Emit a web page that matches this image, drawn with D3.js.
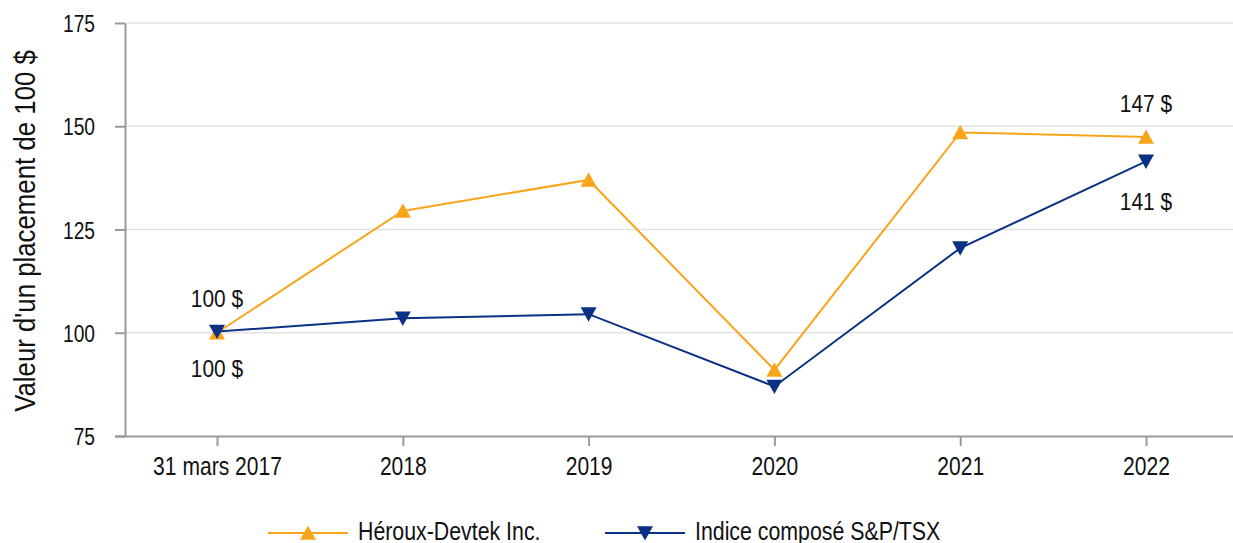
<!DOCTYPE html>
<html>
<head>
<meta charset="utf-8">
<script src="https://cdn.jsdelivr.net/npm/d3@7"></script>
<style>
  body { margin: 0; background: #fff; }
  svg text { font-family: "Liberation Sans", Arial, sans-serif; fill: #111; }
</style>
</head>
<body>
<div id="chart"></div>
<script>
// data
const periods = ["31 mars 2017", "2018", "2019", "2020", "2021", "2022"];
const heroux = [100, 129.5, 137, 91, 148.5, 147.4];
const tsx = [100.3, 103.5, 104.5, 87, 120.5, 141.5];
const yTicks = [75, 100, 125, 150, 175];
const seriesNames = ["Héroux-Devtek Inc.", "Indice composé S&P/TSX"];

const W = 1233, H = 543;
const orange = "#f8a51b", blue = "#0a3184";

// squeeze text horizontally to mimic a narrow font
function narrow(sel, k) {
  sel.each(function() {
    const w = this.getComputedTextLength();
    d3.select(this).attr("textLength", w * k).attr("lengthAdjust", "spacingAndGlyphs");
  });
}

const svg = d3.select("#chart")
  .append("svg")
    .attr("width", W)
    .attr("height", H);

const x = d3.scalePoint()
  .domain(periods)
  .range([217, 1146]);

const y = d3.scaleLinear()
  .domain([75, 175])
  .range([436, 23]);

// gridlines
svg.append("g")
  .selectAll("line")
  .data(yTicks.slice(1))
  .join("line")
    .attr("x1", 125).attr("x2", W)
    .attr("y1", d => y(d)).attr("y2", d => y(d))
    .style("stroke", "#e2e2e2")
    .style("stroke-width", 1.5);

// Y axis
const yAxis = svg.append("g")
  .attr("transform", "translate(125,0)")
  .call(d3.axisLeft(y).tickValues(yTicks).tickSize(10).tickSizeOuter(0));
yAxis.selectAll("text")
  .style("font-size", "24px")
  .attr("x", -30)
  .attr("dy", "0.36em")
  .attr("fill", "#111")
  .call(narrow, 0.8);

// X axis
const xAxis = svg.append("g")
  .attr("transform", "translate(0,436)")
  .call(d3.axisBottom(x).tickSize(10).tickSizeOuter(0));
xAxis.selectAll("text")
  .style("font-size", "26px")
  .attr("y", 39)
  .attr("dy", 0)
  .attr("fill", "#111")
  .call(narrow, 0.81);
xAxis.select(".domain").attr("d", `M115,0.5H${W}`);

svg.selectAll(".domain, .tick line").style("stroke", "#9a9a9a").style("stroke-width", 2);

// y title
svg.append("text")
  .attr("transform", "translate(35,231) rotate(-90)")
  .attr("text-anchor", "middle")
  .style("font-size", "29px")
  .text("Valeur d'un placement de 100 $")
  .call(narrow, 0.89);

const line = d3.line()
  .x((d, i) => x(periods[i]))
  .y(d => y(d));

const triDown = (cx, cy, s) => `M${cx - s},${cy - s * 0.85}L${cx + s},${cy - s * 0.85}L${cx},${cy + s * 0.95}Z`;
const triUp = (cx, cy, s) => `M${cx - s},${cy + s * 0.85}L${cx + s},${cy + s * 0.85}L${cx},${cy - s * 0.95}Z`;

// Héroux line
svg.append("path")
  .datum(heroux)
  .attr("d", line)
  .style("fill", "none")
  .style("stroke", orange)
  .style("stroke-width", 2);

svg.append("g")
  .selectAll("path")
  .data(heroux)
  .join("path")
    .attr("d", (d, i) => triUp(x(periods[i]), y(d), 8))
    .style("fill", orange);

// TSX line
svg.append("path")
  .datum(tsx)
  .attr("d", line)
  .style("fill", "none")
  .style("stroke", blue)
  .style("stroke-width", 2);

svg.append("g")
  .selectAll("path")
  .data(tsx)
  .join("path")
    .attr("d", (d, i) => triDown(x(periods[i]), y(d), 8))
    .style("fill", blue);

// value labels
const labels = [
  { i: 0, text: "100 $", dy: -26 },
  { i: 0, text: "100 $", dy: 45, series: "tsx" },
  { i: 5, text: "147 $", dy: -25 },
  { i: 5, text: "141 $", dy: 49, series: "tsx" }
];
svg.append("g")
  .selectAll("text")
  .data(labels)
  .join("text")
    .attr("x", d => x(periods[d.i]))
    .attr("y", d => y(d.series === "tsx" ? tsx[d.i] : heroux[d.i]) + d.dy)
    .attr("text-anchor", "middle")
    .style("font-size", "24px")
    .text(d => d.text)
    .call(narrow, 0.87);

// legend
const legend = [
  { name: seriesNames[0], color: orange, x0: 268, up: true },
  { name: seriesNames[1], color: blue, x0: 605, up: false }
];
const lg = svg.append("g");
legend.forEach(l => {
  lg.append("line")
    .attr("x1", l.x0).attr("x2", l.x0 + 80)
    .attr("y1", 533).attr("y2", 533)
    .style("stroke", l.color).style("stroke-width", 2);
  lg.append("path")
    .attr("d", l.up ? triUp(l.x0 + 40, 533, 8) : triDown(l.x0 + 40, 533, 8))
    .style("fill", l.color);
  lg.append("text")
    .attr("x", l.x0 + 90)
    .attr("y", 540)
    .style("font-size", "26px")
    .text(l.name)
    .call(narrow, 0.82);
});
</script>
</body>
</html>
